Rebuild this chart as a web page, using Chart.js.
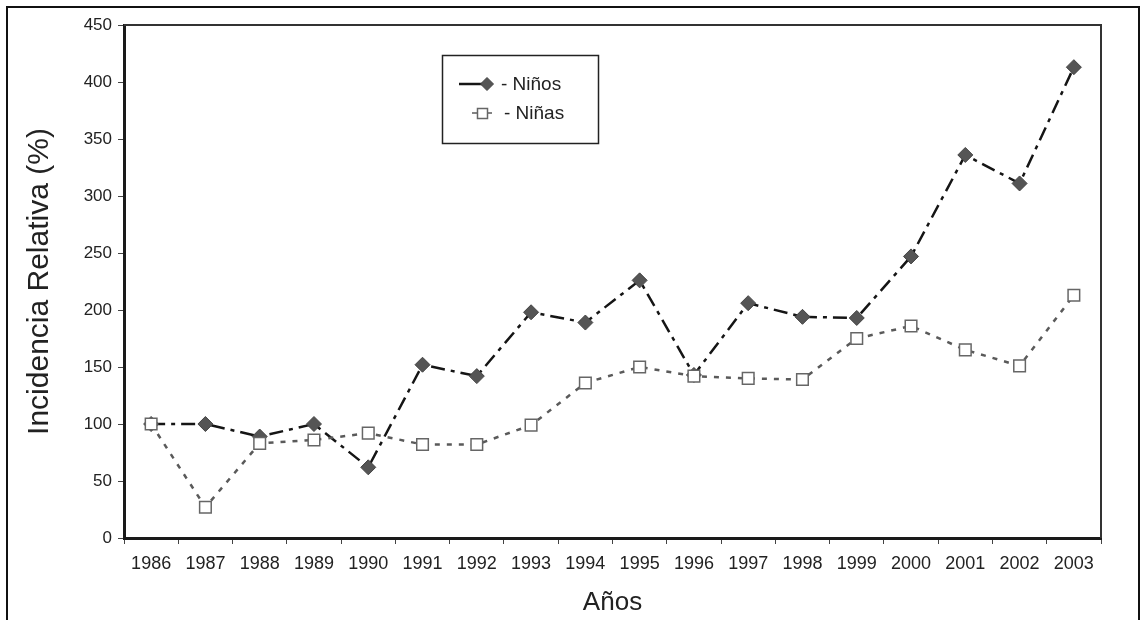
<!DOCTYPE html>
<html>
<head>
<meta charset="utf-8">
<script src="https://cdn.jsdelivr.net/npm/chart.js@4"></script>
<style>
  html, body { margin: 0; padding: 0; background: #fff; }
  #wrap { width: 1146px; height: 620px; }
</style>
</head>
<body>
<div id="wrap"><canvas id="myChart" width="1146" height="620"></canvas></div>
<script>
// x axis labels
var years = ['1986','1987','1988','1989','1990','1991','1992','1993','1994','1995','1996','1997','1998','1999','2000','2001','2002','2003'];
// series values (%)
var ninos = [100,100,89,100,62,152,142,198,189,226,143,206,194,193,247,336,311,413];
var ninas = [100,27,83,86,92,82,82,99,136,150,142,140,139,175,186,165,151,213];
// y axis ticks
var yMin = 0, yMax = 450, yStep = 50;

var FONT = "'Liberation Sans', Arial, sans-serif";
Chart.defaults.font.family = FONT;
Chart.defaults.color = '#222';

// outer frame, plot frame and the boxed legend
var framePlugin = {
  id: 'frame',
  beforeDraw: function(chart) {
    var c = chart.ctx;
    c.save();
    c.fillStyle = '#fff';
    c.fillRect(0, 0, chart.width, chart.height);
    c.strokeStyle = '#111';
    c.lineWidth = 2;
    c.strokeRect(7, 7, 1132, 700);
    c.restore();
  },
  afterDraw: function(chart) {
    var c = chart.ctx, a = chart.chartArea;
    c.save();
    // top + right of plot box
    c.strokeStyle = '#333';
    c.lineWidth = 2;
    c.beginPath();
    c.moveTo(a.left, a.top);
    c.lineTo(a.right, a.top);
    c.lineTo(a.right, a.bottom);
    c.stroke();

    // legend
    c.lineWidth = 1.5;
    c.strokeStyle = '#222';
    c.strokeRect(442.5, 55.5, 156, 88);
    var ds = chart.data.datasets;
    c.font = '19px ' + FONT;
    c.textBaseline = 'middle';

    // row 1 - Niños
    c.strokeStyle = ds[0].borderColor;
    c.lineWidth = 2.5;
    c.beginPath(); c.moveTo(459, 84); c.lineTo(487, 84); c.stroke();
    c.fillStyle = ds[0].pointBackgroundColor;
    c.strokeStyle = ds[0].pointBorderColor;
    c.lineWidth = 1;
    c.beginPath();
    c.moveTo(480.5, 84); c.lineTo(487, 77.5); c.lineTo(493.5, 84); c.lineTo(487, 90.5); c.closePath();
    c.fill(); c.stroke();
    c.fillStyle = '#222';
    c.fillText('- ' + ds[0].label, 501, 85);

    // row 2 - Niñas
    c.strokeStyle = ds[1].borderColor;
    c.lineWidth = 1.5;
    c.beginPath(); c.moveTo(472, 113); c.lineTo(492, 113); c.stroke();
    c.fillStyle = '#fff';
    c.strokeStyle = ds[1].pointBorderColor;
    c.fillRect(477, 108, 10, 10);
    c.strokeRect(477.5, 108.5, 10, 10);
    c.fillStyle = '#222';
    c.fillText('- ' + ds[1].label, 504, 114);
    c.restore();
  }
};

var ctx = document.getElementById('myChart');
var myChart = new Chart(ctx, {
  type: 'line',
  data: {
    labels: years,
    datasets: [
      {
        label: 'Niños',
        data: ninos,
        order: 2,
        borderColor: '#151515',
        borderWidth: 2.5,
        borderDash: [14, 6, 4, 6],
        pointStyle: 'rectRot',
        pointRadius: 7.5,
        pointBackgroundColor: '#555',
        pointBorderColor: '#444',
        pointBorderWidth: 1,
        tension: 0,
        fill: false
      },
      {
        label: 'Niñas',
        data: ninas,
        order: 1,
        borderColor: '#5a5a5a',
        borderWidth: 2.5,
        borderDash: [5, 7],
        pointStyle: 'rect',
        pointRadius: 8.2,
        pointBackgroundColor: '#fff',
        pointBorderColor: '#666',
        pointBorderWidth: 1.5,
        tension: 0,
        fill: false
      }
    ]
  },
  options: {
    responsive: false,
    animation: false,
    layout: { padding: { top: 25, right: 45, left: 0, bottom: 0 } },
    plugins: {
      legend: { display: false },
      tooltip: { enabled: false }
    },
    scales: {
      x: {
        offset: true,
        grid: { offset: true, drawOnChartArea: false, drawTicks: true, tickLength: 6, color: '#444', lineWidth: 1 },
        border: { display: true, color: '#1a1a1a', width: 3 },
        ticks: { font: { size: 18 }, color: '#222', padding: 9, maxRotation: 0, autoSkip: false },
        title: { display: true, text: 'Años', font: { size: 26 }, color: '#222', padding: { top: 0, bottom: 2 } },
        afterFit: function(s) { s.height = 82; }
      },
      y: {
        min: yMin,
        max: yMax,
        grid: { drawOnChartArea: false, drawTicks: true, tickLength: 6, color: '#444', lineWidth: 1 },
        border: { display: true, color: '#1a1a1a', width: 3 },
        ticks: { stepSize: yStep, font: { size: 17 }, color: '#222', padding: 6 },
        title: { display: true, text: 'Incidencia Relativa (%)', font: { size: 30 }, color: '#222', padding: { top: 22, bottom: 0 } },
        afterFit: function(s) { s.width = 124; }
      }
    }
  },
  plugins: [framePlugin]
});
</script>
</body>
</html>
